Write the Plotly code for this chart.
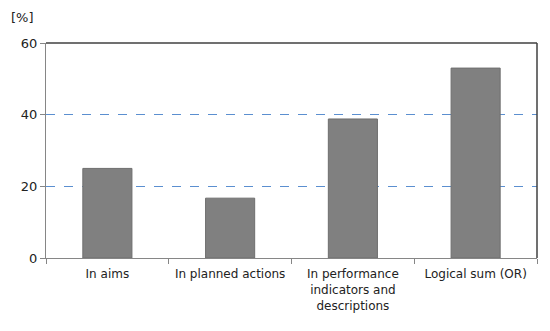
import plotly.graph_objects as go

categories = ["In aims", "In planned actions", "In performance<br>indicators and<br>descriptions", "Logical sum (OR)"]
values = [25.0, 16.7, 38.8, 53.0]
y_ticks = [0, 20, 40, 60]

fig = go.Figure()
fig.add_trace(go.Bar(
    x=categories, y=values,
    marker=dict(color="#808080", line=dict(color="#6e6e6e", width=1)),
    width=0.4,
))

fig.update_layout(
    width=542, height=323,
    margin=dict(l=38, r=13, t=35, b=73),
    paper_bgcolor="white", plot_bgcolor="white",
    showlegend=False,
    font=dict(family="DejaVu Sans", size=12, color="#222222"),
    xaxis=dict(
        type="category", tickson="boundaries", ticks="outside", ticklen=5,
        tickcolor="#868686", showline=True, linecolor="#868686", linewidth=1,
        showgrid=False, tickfont=dict(family="DejaVu Sans", size=12, color="#222222"),
        range=[-0.5, 3.5], ticklabelstandoff=5, automargin=False,
    ),
    yaxis=dict(
        range=[0, 60], tickvals=y_ticks, ticks="outside", ticklen=5,
        tickcolor="#868686", showline=True, linecolor="#868686", linewidth=1,
        showgrid=True, gridcolor="#5B8FD0", griddash="dash", gridwidth=1,
        zeroline=False, tickfont=dict(family="DejaVu Sans", size=13, color="#222222"),
        automargin=False,
    ),
    annotations=[dict(
        text="[%]", xref="paper", yref="paper", x=-0.047, y=1.12,
        xanchor="center", yanchor="middle", showarrow=False,
        font=dict(family="DejaVu Sans", size=13, color="#222222"),
    )],
    shapes=[
        dict(type="line", xref="paper", yref="paper", x0=0, x1=1, y0=1, y1=1,
             line=dict(color="#404040", width=1.5)),
        dict(type="line", xref="paper", yref="paper", x0=1, x1=1, y0=0, y1=1,
             line=dict(color="#404040", width=1.5)),
    ],
)

fig.write_html("out.html")
